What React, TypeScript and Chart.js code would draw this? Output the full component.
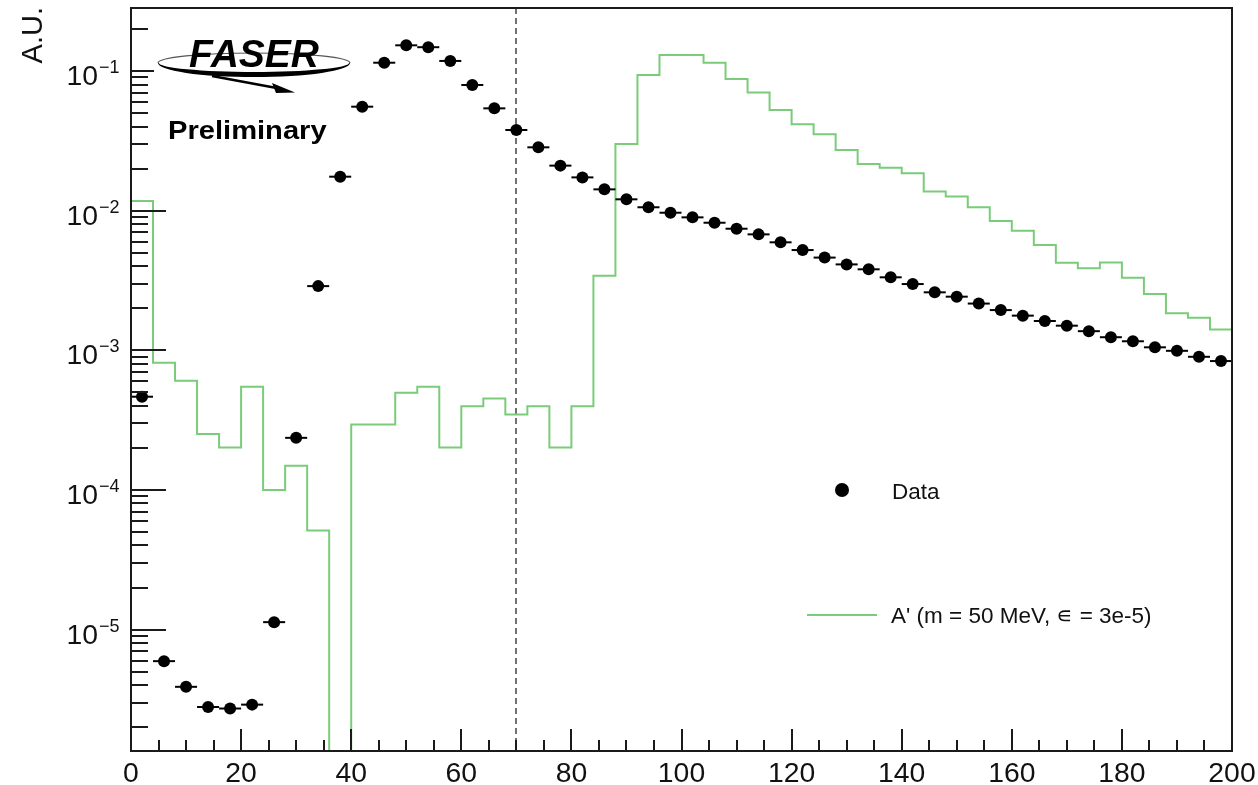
import React, { useEffect, useRef } from 'react';
import { Chart, registerables } from 'chart.js';

Chart.register(...registerables);

// ---- axis ranges ----
const xMin = 0;
const xMax = 200;
const yMin = 1.35e-6;
const yMax = 0.2825;
const binWidth = 4;
const cutPosition = 70;

// ---- data (black points, bin centres) ----
const dataCenters = [
  2, 6, 10, 14, 18, 22, 26, 30, 34, 38,
  42, 46, 50, 54, 58, 62, 66, 70, 74, 78,
  82, 86, 90, 94, 98, 102, 106, 110, 114, 118,
  122, 126, 130, 134, 138, 142, 146, 150, 154, 158,
  162, 166, 170, 174, 178, 182, 186, 190, 194, 198,
];
const dataValues = [
  4.65e-4, 5.94e-6, 3.89e-6, 2.79e-6, 2.72e-6, 2.9e-6, 1.13e-5, 2.36e-4, 2.88e-3, 1.75e-2,
  5.55e-2, 0.1146, 0.1527, 0.148, 0.118, 0.0794, 0.054, 0.0378, 0.0284, 0.021,
  0.0173, 0.0142, 0.01205, 0.01057, 0.00966, 0.00895, 0.00819, 0.00742, 0.00676, 0.00593,
  0.00522, 0.00461, 0.00412, 0.0038, 0.00333, 0.00298, 0.0026, 0.00242, 0.00216, 0.00194,
  0.00177, 0.00162, 0.0015, 0.00137, 0.00124, 0.00116, 0.00105, 0.000991, 0.000898, 0.000837,
];

// ---- A' signal histogram (bin contents, bins of width 4 from 0) ----
const signalValues = [
  0.0117, 8.13e-4, 6.05e-4, 2.51e-4, 2.01e-4, 5.48e-4, 1.0e-4, 1.49e-4, 5.13e-5, 0,
  2.94e-4, 2.94e-4, 4.97e-4, 5.48e-4, 2.01e-4, 3.98e-4, 4.52e-4, 3.47e-4, 3.98e-4, 2.01e-4,
  3.98e-4, 3.41e-3, 0.03, 0.0936, 0.13, 0.13, 0.1147, 0.0877, 0.07, 0.0526,
  0.0415, 0.0352, 0.0272, 0.0216, 0.0203, 0.0185, 0.0137, 0.0126, 0.01056, 0.00843,
  0.00718, 0.00567, 0.00424, 0.00386, 0.00426, 0.0033, 0.00253, 0.00184, 0.00171, 0.00141,
];

// ---- ticks & texts ----
const xTickValues = [0, 20, 40, 60, 80, 100, 120, 140, 160, 180, 200];
const xTickLabels = ['0', '20', '40', '60', '80', '100', '120', '140', '160', '180', '200'];
const yTickExponents = [-5, -4, -3, -2, -1];
const yAxisTitle = 'A.U.';
const legendDataLabel = 'Data';
const legendSignalLabel = "A' (m = 50 MeV, \u220A = 3e-5)";
const logoText = 'FASER';
const statusText = 'Preliminary';

const FONT = '"Liberation Sans", Arial, Helvetica, sans-serif';
const GREEN = 'rgb(122, 204, 122)';

function drawText(
  ctx: CanvasRenderingContext2D,
  s: string,
  x: number,
  y: number,
  font: string,
  align: CanvasTextAlign,
  sx = 1,
  color = '#111'
) {
  ctx.save();
  ctx.translate(x, y);
  ctx.scale(sx, 1);
  ctx.font = font;
  ctx.textAlign = align;
  ctx.textBaseline = 'alphabetic';
  ctx.fillStyle = color;
  ctx.fillText(s, 0, 0);
  ctx.restore();
}

const errorBarPlugin = {
  id: 'errorBars',
  beforeDatasetDraw(chart: any, args: any) {
    if (args.index !== 0) return;
    const { ctx, scales, chartArea } = chart;
    const x = scales.x;
    const y = scales.y;
    ctx.save();
    ctx.beginPath();
    ctx.rect(chartArea.left, chartArea.top, chartArea.right - chartArea.left, chartArea.bottom - chartArea.top);
    ctx.clip();
    ctx.strokeStyle = '#000';
    ctx.lineWidth = 2;
    dataCenters.forEach((c, i) => {
      const py = y.getPixelForValue(dataValues[i]);
      ctx.beginPath();
      ctx.moveTo(x.getPixelForValue(c - binWidth / 2), py);
      ctx.lineTo(x.getPixelForValue(c + binWidth / 2), py);
      ctx.stroke();
    });
    ctx.restore();
  },
};

const cutLinePlugin = {
  id: 'cutLine',
  beforeDatasetsDraw(chart: any) {
    const { ctx, scales, chartArea } = chart;
    const px = Math.round(scales.x.getPixelForValue(cutPosition));
    ctx.save();
    ctx.strokeStyle = '#707070';
    ctx.lineWidth = 2;
    ctx.setLineDash([6, 4]);
    ctx.beginPath();
    ctx.moveTo(px, chartArea.top);
    ctx.lineTo(px, chartArea.bottom);
    ctx.stroke();
    ctx.restore();
  },
};

const framePlugin = {
  id: 'frame',
  afterDraw(chart: any) {
    const { ctx, scales, chartArea } = chart;
    const { left, right, top, bottom } = chartArea;
    const x = scales.x;
    const y = scales.y;
    ctx.save();
    ctx.strokeStyle = '#1a1a1a';
    ctx.lineWidth = 2;
    ctx.strokeRect(left, top, right - left, bottom - top);

    // x ticks (inward)
    ctx.beginPath();
    for (let v = xMin; v <= xMax; v += 5) {
      const px = Math.round(x.getPixelForValue(v));
      const len = v % 20 === 0 ? 22 : 11;
      ctx.moveTo(px, bottom);
      ctx.lineTo(px, bottom - len);
    }
    // y ticks (inward, log)
    for (let e = -7; e <= 0; e++) {
      for (let m = 1; m <= 9; m++) {
        const v = m * Math.pow(10, e);
        if (v < yMin || v > yMax) continue;
        const py = Math.round(y.getPixelForValue(v));
        const len = m === 1 ? 35 : 17;
        ctx.moveTo(left, py);
        ctx.lineTo(left + len, py);
      }
    }
    ctx.stroke();

    // x labels
    xTickValues.forEach((v, i) => {
      drawText(ctx, xTickLabels[i], x.getPixelForValue(v), 782, `27px ${FONT}`, 'center', 1.05, '#111');
    });
    // y labels 10^n
    yTickExponents.forEach((e) => {
      const py = y.getPixelForValue(Math.pow(10, e));
      drawText(ctx, '10', 98, py + 14, `27px ${FONT}`, 'right', 1.05, '#111');
      drawText(ctx, '\u2212' + String(Math.abs(e)), 99, py + 2, `18px ${FONT}`, 'left', 1.0, '#111');
    });

    // y axis title
    ctx.save();
    ctx.translate(42, 7);
    ctx.rotate(-Math.PI / 2);
    ctx.font = `29px ${FONT}`;
    ctx.textAlign = 'right';
    ctx.textBaseline = 'alphabetic';
    ctx.fillStyle = '#111';
    ctx.fillText(yAxisTitle, 0, 0);
    ctx.restore();

    // ---- FASER logo ----
    ctx.fillStyle = '#fff';
    ctx.fillRect(154, 34, 200, 64);
    const cx = 254;
    const cy = 63;
    ctx.strokeStyle = '#555';
    ctx.lineWidth = 1.2;
    ctx.beginPath();
    ctx.ellipse(cx, cy, 96, 10, 0, Math.PI, 2 * Math.PI);
    ctx.stroke();
    ctx.fillStyle = '#000';
    ctx.beginPath();
    ctx.ellipse(cx, cy, 96, 14, 0, 0, Math.PI);
    ctx.ellipse(cx, cy, 95, 9, 0, Math.PI, 0, true);
    ctx.closePath();
    ctx.fill();
    ctx.strokeStyle = '#000';
    ctx.lineWidth = 2.5;
    ctx.beginPath();
    ctx.moveTo(212, 76);
    ctx.lineTo(282, 89);
    ctx.stroke();
    ctx.beginPath();
    ctx.moveTo(295, 92.5);
    ctx.lineTo(272, 83);
    ctx.lineTo(276, 93);
    ctx.closePath();
    ctx.fill();
    drawText(ctx, logoText, 189, 67, `italic bold 39px ${FONT}`, 'left', 1.0, '#000');
    drawText(ctx, statusText, 168, 138.5, `bold 26px ${FONT}`, 'left', 1.12, '#000');

    // ---- legend ----
    ctx.fillStyle = '#000';
    ctx.beginPath();
    ctx.arc(842, 490, 7, 0, Math.PI * 2);
    ctx.fill();
    drawText(ctx, legendDataLabel, 892, 499, `22.5px ${FONT}`, 'left', 1.0, '#111');
    ctx.strokeStyle = GREEN;
    ctx.lineWidth = 2;
    ctx.beginPath();
    ctx.moveTo(807, 615);
    ctx.lineTo(877, 615);
    ctx.stroke();
    drawText(ctx, legendSignalLabel, 891, 623, `22.5px ${FONT}`, 'left', 1.0, '#111');

    ctx.restore();
  },
};

export default function App() {
  const canvasRef = useRef<HTMLCanvasElement | null>(null);

  useEffect(() => {
    if (!canvasRef.current) return;
    const floorValue = yMin * 0.01;
    const histPoints = signalValues.map((v, i) => ({ x: xMin + i * binWidth, y: v > 0 ? v : floorValue }));
    histPoints.push({ x: xMin + signalValues.length * binWidth, y: signalValues[signalValues.length - 1] });
    const dataPoints = dataCenters.map((c, i) => ({ x: c, y: dataValues[i] }));

    const chart = new Chart(canvasRef.current, {
      type: 'line',
      data: {
        datasets: [
          {
            label: legendDataLabel,
            data: dataPoints,
            showLine: false,
            pointRadius: 6,
            pointHoverRadius: 6,
            pointBackgroundColor: '#000',
            pointBorderColor: '#000',
            pointBorderWidth: 0,
            borderWidth: 0,
          },
          {
            label: legendSignalLabel,
            data: histPoints,
            stepped: 'before',
            borderColor: GREEN,
            borderWidth: 2,
            pointRadius: 0,
            fill: false,
            tension: 0,
          },
        ],
      },
      options: {
        responsive: false,
        devicePixelRatio: 1,
        animation: false,
        events: [],
        layout: { padding: { left: 131, top: 8, right: 26, bottom: 34 } },
        plugins: {
          legend: { display: false },
          tooltip: { enabled: false },
        },
        scales: {
          x: { type: 'linear', min: xMin, max: xMax, display: false },
          y: { type: 'logarithmic', min: yMin, max: yMax, display: false },
        },
      } as any,
      plugins: [cutLinePlugin, errorBarPlugin, framePlugin],
    });
    return () => chart.destroy();
  }, []);

  return (
    <div style={{ position: 'absolute', left: 0, top: 0, width: 1258, height: 785, background: '#fff' }}>
      <canvas ref={canvasRef} width={1258} height={785} />
    </div>
  );
}
